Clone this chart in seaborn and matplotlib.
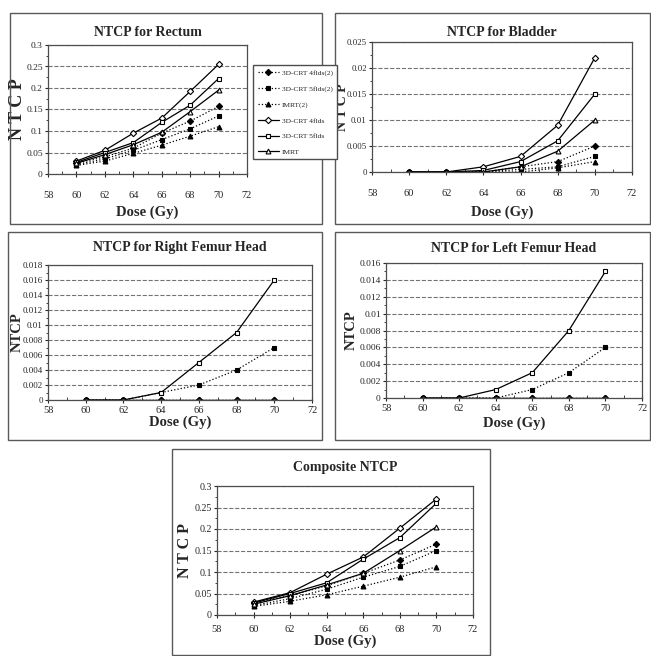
import numpy as np
import pandas as pd
import matplotlib
matplotlib.use('Agg')
import matplotlib.pyplot as plt
import seaborn as sns
from matplotlib.ticker import FuncFormatter, MultipleLocator, AutoMinorLocator
from matplotlib.patches import Rectangle

sns.set_style('white')
plt.rcParams['font.family'] = ['Liberation Serif', 'DejaVu Serif']

dose = [60, 62, 64, 66, 68, 70]
series_names = ['3D-CRT 4flds(2)', '3D-CRT 5flds(2)', 'IMRT(2)',
                '3D-CRT 4flds', '3D-CRT 5flds', 'IMRT']

# NTCP values, one list per series
rectum_4f2 = [0.025, 0.040, 0.060, 0.095, 0.123, 0.157]
rectum_5f2 = [0.022, 0.035, 0.055, 0.080, 0.105, 0.135]
rectum_imrt2 = [0.020, 0.030, 0.048, 0.067, 0.088, 0.110]
rectum_4f = [0.030, 0.055, 0.095, 0.130, 0.192, 0.255]
rectum_5f = [0.027, 0.050, 0.073, 0.120, 0.160, 0.222]
rectum_imrt = [0.025, 0.045, 0.068, 0.097, 0.145, 0.195]

bladder_4f2 = [0, 0, 0, 0.001, 0.002, 0.005]
bladder_5f2 = [0, 0, 0, 0.0005, 0.001, 0.003]
bladder_imrt2 = [0, 0, 0, 0, 0.0008, 0.002]
bladder_4f = [0, 0, 0.001, 0.003, 0.009, 0.022]
bladder_5f = [0, 0, 0.0003, 0.002, 0.006, 0.015]
bladder_imrt = [0, 0, 0, 0.001, 0.004, 0.010]

rfem_4f2 = [0, 0, 0, 0, 0, 0]
rfem_5f2 = [0, 0, 0.001, 0.002, 0.004, 0.007]
rfem_imrt2 = [0, 0, 0, 0, 0, 0]
rfem_4f = [0, 0, 0, 0, 0, 0]
rfem_5f = [0, 0, 0.001, 0.005, 0.009, 0.016]
rfem_imrt = [0, 0, 0, 0, 0, 0]

lfem_4f2 = [0, 0, 0, 0, 0, 0]
lfem_5f2 = [0, 0, 0, 0.001, 0.003, 0.006]
lfem_imrt2 = [0, 0, 0, 0, 0, 0]
lfem_4f = [0, 0, 0, 0, 0, 0]
lfem_5f = [0, 0, 0.001, 0.003, 0.008, 0.015]
lfem_imrt = [0, 0, 0, 0, 0, 0]

comp_4f2 = [0.028, 0.045, 0.068, 0.097, 0.128, 0.165]
comp_5f2 = [0.022, 0.038, 0.060, 0.088, 0.113, 0.150]
comp_imrt2 = [0.020, 0.032, 0.047, 0.067, 0.088, 0.112]
comp_4f = [0.030, 0.052, 0.095, 0.135, 0.202, 0.270]
comp_5f = [0.028, 0.050, 0.075, 0.130, 0.180, 0.260]
comp_imrt = [0.025, 0.045, 0.070, 0.097, 0.150, 0.205]

styles = {
    '3D-CRT 4flds(2)': dict(ls=':', marker='D', mfc='black', ms=3.2),
    '3D-CRT 5flds(2)': dict(ls=':', marker='s', mfc='black', ms=3.2),
    'IMRT(2)': dict(ls=':', marker='^', mfc='black', ms=3.5),
    '3D-CRT 4flds': dict(ls='-', marker='D', mfc='white', ms=3.2),
    '3D-CRT 5flds': dict(ls='-', marker='s', mfc='white', ms=3.5),
    'IMRT': dict(ls='-', marker='^', mfc='white', ms=3.5),
}

W, H = 651, 656
fig = plt.figure(figsize=(W / 100, H / 100), dpi=100)


def px_axes(x0, x1, y0, y1):
    return fig.add_axes([x0 / W, 1 - y1 / H, (x1 - x0) / W, (y1 - y0) / H])


def box(x0, x1, y0, y1):
    fig.add_artist(Rectangle((x0 / W, 1 - y1 / H), (x1 - x0) / W, (y1 - y0) / H,
                             transform=fig.transFigure, fill=False,
                             edgecolor='0.35', lw=1.0))


# title, data, axes px box, ymax, ystep, ylabel, ylabel size, panel frame,
# title y px, xtick pad, xlabel y px, ylabel x px, ytick size
panels = [
    ('NTCP for Rectum', [rectum_4f2, rectum_5f2, rectum_imrt2, rectum_4f, rectum_5f, rectum_imrt],
     (48, 247, 45, 174), 0.3, 0.05, 'N T C P', 13, (10, 322, 13, 224), 32, 10, 212, 18, 6.8),
    ('NTCP for Bladder', [bladder_4f2, bladder_5f2, bladder_imrt2, bladder_4f, bladder_5f, bladder_imrt],
     (372, 632, 42, 172), 0.025, 0.005, 'N T C P', 10, (335, 650, 13, 224), 32, 10, 212, 342, 6.3),
    ('NTCP for Right Femur Head', [rfem_4f2, rfem_5f2, rfem_imrt2, rfem_4f, rfem_5f, rfem_imrt],
     (48, 312, 265, 400), 0.018, 0.002, 'NTCP', 10.5, (8, 322, 232, 440), 248, 2, 422, 17, 6.5),
    ('NTCP for Left Femur Head', [lfem_4f2, lfem_5f2, lfem_imrt2, lfem_4f, lfem_5f, lfem_imrt],
     (386, 642, 263, 398), 0.016, 0.002, 'NTCP', 10.5, (335, 650, 232, 440), 248, 2, 423, 351, 6.8),
    ('Composite NTCP', [comp_4f2, comp_5f2, comp_imrt2, comp_4f, comp_5f, comp_imrt],
     (217, 473, 486, 615), 0.3, 0.05, 'N T C P', 11.5, (172, 490, 449, 655), 467, 5, 641, 185, 7.2),
]

fmt = FuncFormatter(lambda v, p: f'{v:g}')
axes = []
for (title, values, pos, ymax, ystep, ylab, ylsize, bx,
     ty, xpad, xly, ylx, ytsize) in panels:
    box(*bx)
    ax = px_axes(*pos)
    x0, x1, y0, y1 = pos
    for name, vals in zip(series_names, values):
        st = styles[name]
        df = pd.DataFrame({'Dose': dose, 'NTCP': vals})
        sns.lineplot(data=df, x='Dose', y='NTCP', ax=ax, color='black', lw=0.9,
                     linestyle=st['ls'], marker=st['marker'], markersize=st['ms'],
                     markerfacecolor=st['mfc'], markeredgecolor='black',
                     markeredgewidth=0.8, label=name)
    ax.set_xlim(58, 72)
    ax.set_ylim(0, ymax)
    ax.xaxis.set_major_locator(MultipleLocator(2))
    ax.xaxis.set_minor_locator(MultipleLocator(1))
    ax.yaxis.set_major_locator(MultipleLocator(ystep))
    ax.yaxis.set_minor_locator(AutoMinorLocator(2))
    ax.yaxis.set_major_formatter(fmt)
    ax.tick_params(axis='x', which='major', labelsize=7.5, width=0.8,
                   direction='inout', length=4, bottom=True, pad=xpad)
    ax.tick_params(axis='x', which='minor', length=2, direction='in', bottom=True)
    ax.tick_params(axis='y', which='major', labelsize=ytsize, width=0.8,
                   left=True, length=2.5, direction='out', pad=1.2)
    ax.tick_params(axis='y', which='minor', length=1.5, direction='out', left=True)
    ax.yaxis.grid(True, linestyle='--', color='0.45', lw=0.8)
    ax.set_axisbelow(True)
    for s in ax.spines.values():
        s.set_color('0.3')
        s.set_linewidth(0.9)
    ax.set_title(title, fontsize=10, fontweight='bold', pad=0,
                 y=1 + (y0 - ty) / (y1 - y0), va='center')
    ax.set_xlabel('Dose (Gy)', fontsize=10.5, fontweight='bold')
    ax.xaxis.label.set_va('center')
    ax.xaxis.set_label_coords(0.5, -(xly - y1) / (y1 - y0))
    ax.set_ylabel(ylab, fontsize=ylsize, fontweight='bold')
    ax.yaxis.label.set_va('center')
    ax.yaxis.set_label_coords((ylx - x0) / (x1 - x0), 0.5)
    ax.get_legend().remove()
    axes.append(ax)

handles, labels = axes[0].get_legend_handles_labels()
fig.legend(handles, labels, loc='upper left',
           bbox_to_anchor=(253 / W, 1 - 65 / H), fontsize=5.4, frameon=True,
           fancybox=False, edgecolor='0.3', handlelength=2.9, handletextpad=0.3,
           borderpad=0.6, labelspacing=1.25, borderaxespad=0, framealpha=1)

fig.savefig('out.png', dpi=100, facecolor='white')
